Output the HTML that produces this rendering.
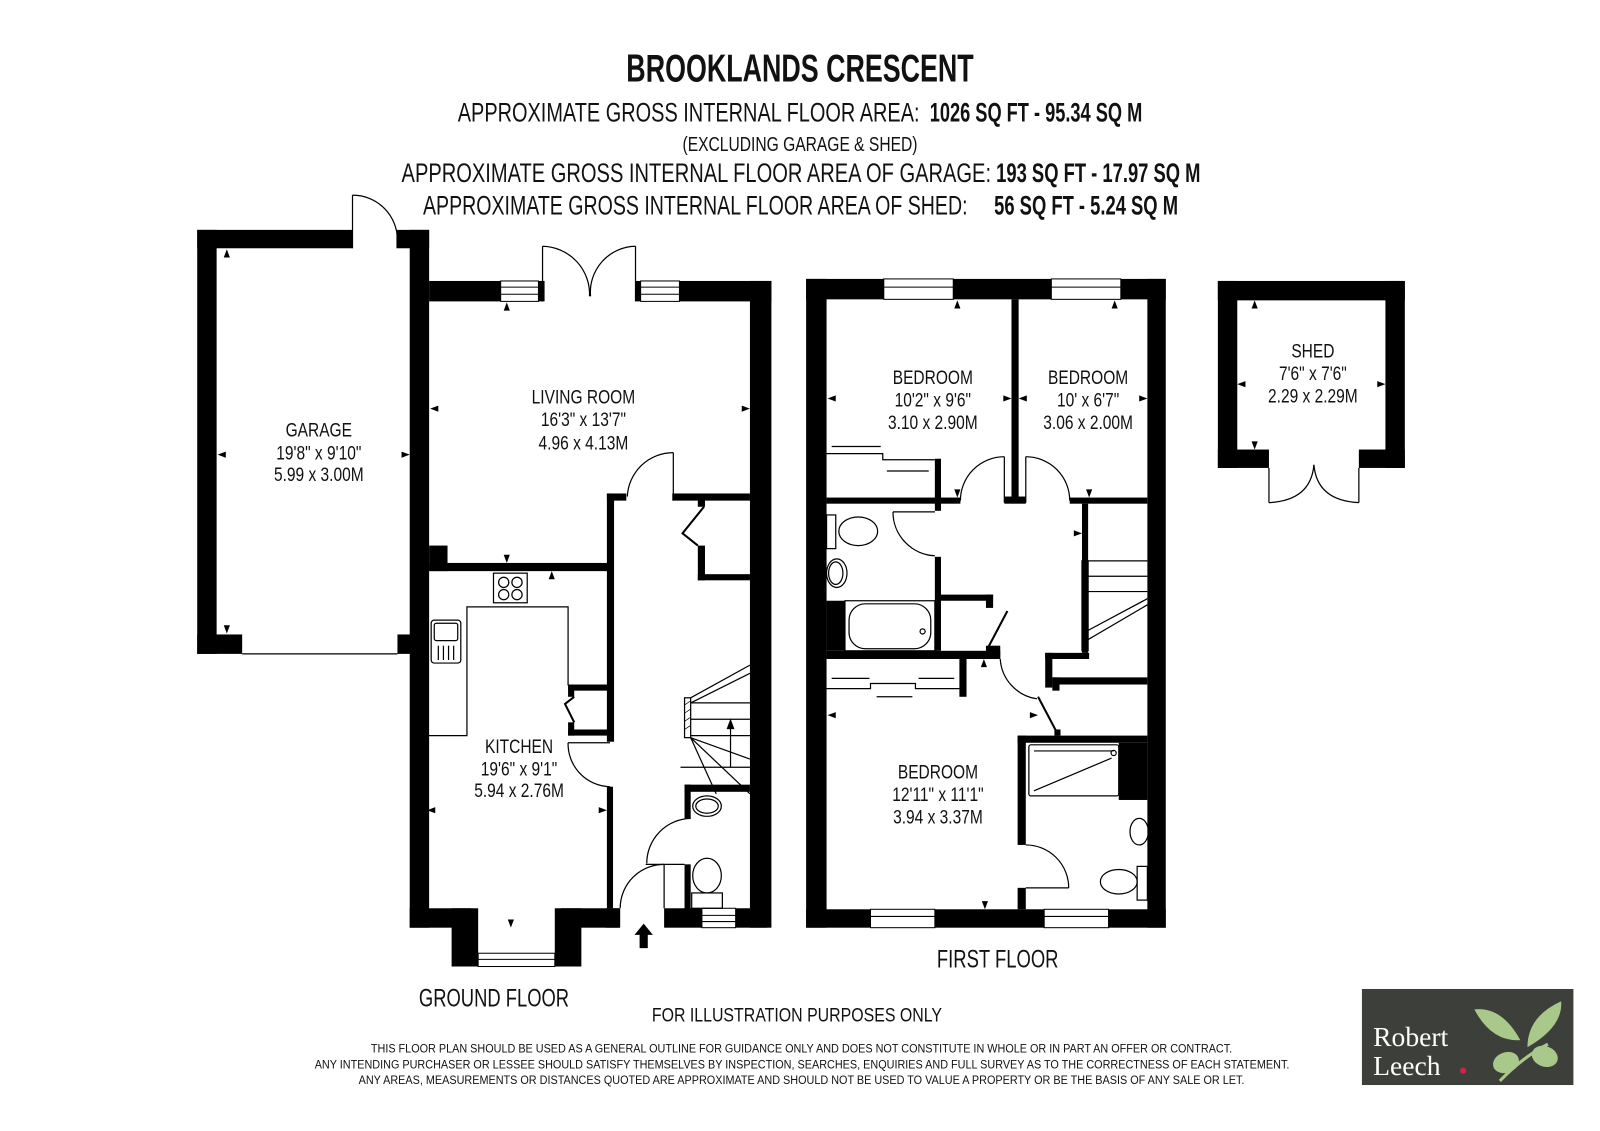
<!DOCTYPE html>
<html><head><meta charset="utf-8"><style>
html,body{margin:0;padding:0;background:#fff;}
svg{display:block;}
text{font-family:"Liberation Sans Narrow","Liberation Sans",sans-serif;fill:#111;}
</style></head><body>
<svg width="1600" height="1131" viewBox="0 0 1566 1107" xmlns="http://www.w3.org/2000/svg">
<rect width="1566" height="1107" fill="#fff"/>
<!-- Header -->
<text x="613" y="80" font-size="38" font-weight="bold" textLength="340" lengthAdjust="spacingAndGlyphs">BROOKLANDS CRESCENT</text>
<text x="448" y="119" font-size="26" textLength="452" lengthAdjust="spacingAndGlyphs">APPROXIMATE GROSS INTERNAL FLOOR AREA:</text>
<text x="910" y="119" font-size="26" font-weight="bold" textLength="208" lengthAdjust="spacingAndGlyphs">1026 SQ FT  -  95.34 SQ M</text>
<text x="668" y="148" font-size="20" textLength="230" lengthAdjust="spacingAndGlyphs">(EXCLUDING GARAGE &amp; SHED)</text>
<text x="393" y="178" font-size="26" textLength="577" lengthAdjust="spacingAndGlyphs">APPROXIMATE GROSS INTERNAL FLOOR AREA OF GARAGE:</text>
<text x="975" y="178" font-size="26" font-weight="bold" textLength="200" lengthAdjust="spacingAndGlyphs">193 SQ FT  -  17.97 SQ M</text>
<text x="414" y="210" font-size="26" textLength="533" lengthAdjust="spacingAndGlyphs">APPROXIMATE GROSS INTERNAL FLOOR AREA OF SHED:</text>
<text x="973" y="210" font-size="26" font-weight="bold" textLength="180" lengthAdjust="spacingAndGlyphs">56 SQ FT  -  5.24 SQ M</text>

<g fill="#000">
<rect x="193" y="225" width="19" height="415"/>
<rect x="193" y="225" width="152" height="18"/>
<rect x="388" y="225" width="32" height="18"/>
<rect x="401" y="225" width="19" height="683"/>
<rect x="193" y="621" width="44" height="19"/>
<rect x="389" y="621" width="13" height="19"/>
<rect x="420" y="275" width="335" height="20"/>
<rect x="734" y="275" width="21" height="633"/>
<rect x="420" y="551" width="180" height="8"/>
<rect x="420" y="534" width="18" height="25"/>
<rect x="594" y="483" width="7" height="243"/>
<rect x="594" y="483" width="19" height="7"/>
<rect x="658" y="483" width="76" height="7"/>
<rect x="683" y="534" width="7" height="34"/>
<rect x="683" y="562" width="51" height="6"/>
<rect x="683" y="488" width="7" height="8"/>
<rect x="594" y="770" width="6" height="119"/>
<rect x="556" y="670" width="42" height="6"/>
<rect x="556" y="670" width="6" height="12"/>
<rect x="556" y="707" width="6" height="13"/>
<rect x="556" y="714" width="42" height="6"/>
<rect x="401" y="889" width="60" height="19"/>
<rect x="442" y="889" width="26" height="57"/>
<rect x="549" y="889" width="57" height="19"/>
<rect x="543" y="889" width="26" height="57"/>
<rect x="593" y="889" width="14" height="19"/>
<rect x="650" y="889" width="101" height="19"/>
<rect x="670" y="768" width="64" height="7"/>
<rect x="670" y="768" width="6" height="33"/>
<rect x="670" y="846" width="6" height="45"/>
<rect x="789" y="273" width="352" height="20"/>
<rect x="789" y="273" width="20" height="635"/>
<rect x="1123" y="273" width="18" height="635"/>
<rect x="789" y="890" width="352" height="18"/>
<rect x="990" y="293" width="7" height="199"/>
<rect x="983" y="486" width="21" height="7"/>
<rect x="809" y="487" width="131" height="6"/>
<rect x="1047" y="487" width="76" height="6"/>
<rect x="915" y="449" width="6" height="51"/>
<rect x="915" y="545" width="6" height="92"/>
<rect x="809" y="588" width="18" height="49"/>
<rect x="809" y="637" width="170" height="8"/>
<rect x="921" y="582" width="51" height="6"/>
<rect x="965" y="582" width="7" height="13"/>
<rect x="965" y="632" width="14" height="13"/>
<rect x="939" y="645" width="7" height="37"/>
<rect x="1023" y="639" width="43" height="6"/>
<rect x="1023" y="639" width="7" height="34"/>
<rect x="1030" y="663" width="93" height="7"/>
<rect x="1030" y="663" width="7" height="13"/>
<rect x="1059" y="493" width="6" height="146"/>
<rect x="996" y="720" width="127" height="7"/>
<rect x="996" y="720" width="8" height="107"/>
<rect x="996" y="869" width="8" height="21"/>
<rect x="1095" y="727" width="28" height="56"/>
<rect x="1032" y="714" width="6" height="6"/>
<rect x="1192" y="275" width="183" height="19"/>
<rect x="1192" y="275" width="19" height="183"/>
<rect x="1356" y="275" width="19" height="183"/>
<rect x="1192" y="440" width="50" height="18"/>
<rect x="1330" y="440" width="45" height="18"/>
<polygon points="630,904 639,915 634,915 634,928 626,928 626,915 621,915"/>
</g>

<g fill="#fff" stroke="#000" stroke-width="1">
<rect x="490" y="275" width="37" height="20"/>
<rect x="627" y="275" width="38" height="20"/>
<rect x="468" y="933" width="75" height="13"/>
<rect x="687" y="889" width="33" height="19"/>
<rect x="865" y="273" width="68" height="20"/>
<rect x="1029" y="273" width="68" height="20"/>
<rect x="852" y="890" width="63" height="18"/>
<rect x="1022" y="890" width="63" height="18"/>
</g>
<g stroke="#000" stroke-width="1">
<line x1="490" y1="281" x2="527" y2="281"/><line x1="490" y1="288" x2="527" y2="288"/>
<line x1="627" y1="281" x2="665" y2="281"/><line x1="627" y1="288" x2="665" y2="288"/>
<line x1="468" y1="939" x2="543" y2="939"/>
<line x1="687" y1="896" x2="720" y2="896"/><line x1="687" y1="902" x2="720" y2="902"/>
<line x1="865" y1="281" x2="933" y2="281"/><line x1="1029" y1="281" x2="1097" y2="281"/>
<line x1="852" y1="897" x2="915" y2="897"/><line x1="1022" y1="897" x2="1085" y2="897"/>
</g>
<rect x="533" y="274" width="89" height="22" fill="#fff"/>

<g fill="none" stroke="#000" stroke-width="1.2">
<line x1="237" y1="640" x2="389" y2="640"/>
<line x1="345" y1="243" x2="345" y2="191"/>
<path d="M345,191 A44 44 0 0 1 389,235"/>
<line x1="531" y1="295" x2="531" y2="241"/><path d="M531,241 A47 47 0 0 1 577,290"/>
<line x1="622" y1="295" x2="622" y2="241"/><path d="M622,241 A45 45 0 0 0 578,290"/>
<line x1="659" y1="443" x2="659" y2="490"/><path d="M659,443 A45 45 0 0 0 614,486"/>
<path d="M689,496 L668,522 L683,534" stroke-width="2"/>
<line x1="556" y1="727" x2="597" y2="727"/><path d="M556,727 A42 42 0 0 0 597,770"/>
<path d="M562,682 L553,689 L562,707" stroke-width="2"/>
<rect x="483" y="561" width="33" height="29"/>
<circle cx="493" cy="570" r="5"/><circle cx="506" cy="570" r="5"/><circle cx="493" cy="582" r="5"/><circle cx="506" cy="582" r="5"/>
<polyline points="417,720 457,720 457,594 556,594 556,671"/>
<rect x="422" y="607" width="29" height="42" rx="3"/><rect x="425" y="610" width="23" height="17" rx="2"/>
<line x1="429" y1="632" x2="429" y2="646"/><line x1="434" y1="632" x2="434" y2="646"/><line x1="439" y1="632" x2="439" y2="646"/><line x1="444" y1="632" x2="444" y2="646"/>
<line x1="650" y1="889" x2="650" y2="846"/><path d="M607,889 A43 43 0 0 1 650,846"/>
<rect x="670" y="683" width="6" height="39"/>
<line x1="676" y1="683" x2="734" y2="651"/><line x1="676" y1="688" x2="734" y2="659"/>
<line x1="676" y1="688" x2="734" y2="688"/><line x1="676" y1="704" x2="734" y2="704"/><line x1="676" y1="720" x2="734" y2="720"/>
<line x1="666" y1="751" x2="734" y2="751"/>
<line x1="676" y1="722" x2="701" y2="777"/><line x1="676" y1="722" x2="734" y2="777"/><line x1="676" y1="722" x2="734" y2="743"/>
<line x1="715" y1="751" x2="715" y2="708"/><polygon points="715,705 712,713 718,713" fill="#000"/>
<line x1="632" y1="846" x2="670" y2="846"/><path d="M676,801 A44 44 0 0 0 633,845"/>
<ellipse cx="692" cy="789" rx="14" ry="10"/><ellipse cx="692" cy="789" rx="11" ry="7"/>
<ellipse cx="692" cy="857" rx="14" ry="17"/><rect x="677" y="874" width="30" height="15"/>
<line x1="983" y1="447" x2="983" y2="492"/><path d="M983,447 A43 43 0 0 0 940,490"/>
<line x1="1004" y1="447" x2="1004" y2="492"/><path d="M1004,447 A43 43 0 0 1 1047,490"/>
<polyline points="809,444 864,444 864,450 915,450"/>
<line x1="814" y1="437" x2="862" y2="437"/><line x1="868" y1="461" x2="909" y2="461"/>
<line x1="874" y1="501" x2="915" y2="501"/><path d="M874,501 A43 43 0 0 0 915,544"/>
<ellipse cx="840" cy="520" rx="19" ry="14"/><rect x="809" y="504" width="9" height="33"/>
<ellipse cx="819" cy="561" rx="10" ry="14"/><ellipse cx="818" cy="561" rx="7" ry="11"/>
<rect x="827" y="588" width="88" height="49"/><rect x="831" y="591" width="80" height="44" rx="16"/>
<circle cx="903" cy="618" r="2.5"/>
<path d="M986,598 L967,634" stroke-width="2"/>
<polyline points="809,674 852,674 852,669 896,669 896,674 939,674"/>
<line x1="814" y1="664" x2="851" y2="664"/><line x1="858" y1="682" x2="893" y2="682"/><line x1="899" y1="664" x2="934" y2="664"/>
<path d="M979,645 A42 42 0 0 0 1015,684"/>
<path d="M1016,682 L1035,718" stroke-width="2"/>
<rect x="1059" y="549" width="6" height="88"/>
<line x1="1065" y1="549" x2="1123" y2="549"/><line x1="1065" y1="564" x2="1123" y2="564"/><line x1="1065" y1="579" x2="1123" y2="579"/>
<line x1="1065" y1="626" x2="1123" y2="592"/><line x1="1065" y1="617" x2="1123" y2="586"/>
<line x1="1004" y1="869" x2="1046" y2="869"/><path d="M1004,827 A42 42 0 0 1 1046,869"/>
<rect x="1007" y="729" width="88" height="50" rx="2"/>
<line x1="1012" y1="735" x2="1090" y2="735"/><line x1="1012" y1="774" x2="1088" y2="742"/><circle cx="1090" cy="737" r="2.5"/>
<ellipse cx="1115" cy="814" rx="9" ry="13"/>
<ellipse cx="1095" cy="863" rx="18" ry="12"/><rect x="1113" y="848" width="10" height="33"/>
<line x1="1242" y1="458" x2="1242" y2="492"/><line x1="1330" y1="458" x2="1330" y2="492"/>
<path d="M1242,492 Q1283,490 1286,455"/><path d="M1330,492 Q1289,490 1286,455"/>
</g>
<g stroke="#000" stroke-width="0.7">
<line x1="670" y1="690" x2="676" y2="686"/><line x1="670" y1="698" x2="676" y2="694"/><line x1="670" y1="706" x2="676" y2="702"/><line x1="670" y1="714" x2="676" y2="710"/>
<line x1="1059" y1="560" x2="1065" y2="555"/><line x1="1059" y1="575" x2="1065" y2="570"/><line x1="1059" y1="590" x2="1065" y2="585"/><line x1="1059" y1="605" x2="1065" y2="600"/><line x1="1059" y1="620" x2="1065" y2="615"/>
</g>
<g fill="#000">
<polygon points="222,244 219,252 225,252"/><polygon points="222,620 219,612 225,612"/>
<polygon points="213,445 221,442 221,448"/><polygon points="401,445 393,442 393,448"/>
<polygon points="496,296 493,304 499,304"/><polygon points="496,551 493,543 499,543"/>
<polygon points="421,400 429,397 429,403"/><polygon points="734,400 726,397 726,403"/>
<polygon points="540,559 537,567 543,567"/><polygon points="500,908 497,900 503,900"/>
<polygon points="418,793 426,790 426,796"/><polygon points="594,793 586,790 586,796"/>
<polygon points="937,294 934,302 940,302"/><polygon points="937,487 934,479 940,479"/>
<polygon points="810,390 818,387 818,393"/><polygon points="990,390 982,387 982,393"/>
<polygon points="1091,294 1088,302 1094,302"/><polygon points="1066,487 1063,479 1069,479"/>
<polygon points="997,390 1005,387 1005,393"/><polygon points="1123,390 1115,387 1115,393"/>
<polygon points="963,645 960,653 966,653"/><polygon points="964,890 961,882 967,882"/>
<polygon points="810,700 818,697 818,703"/><polygon points="1016,700 1008,697 1008,703"/>
<polygon points="1059,522 1051,519 1051,525"/>
<polygon points="1228,294 1225,302 1231,302"/><polygon points="1228,440 1225,432 1231,432"/>
<polygon points="1211,376 1219,373 1219,379"/><polygon points="1356,376 1348,373 1348,379"/>
</g>

<g font-size="19" text-anchor="middle">
<g transform="translate(312 0) scale(0.8 1)"><text x="0" y="427">GARAGE</text><text x="0" y="450">19'8" x 9'10"</text><text x="0" y="471">5.99 x 3.00M</text></g>
<g transform="translate(571 0) scale(0.8 1)"><text x="0" y="395">LIVING ROOM</text><text x="0" y="417">16'3" x 13'7"</text><text x="0" y="440">4.96 x 4.13M</text></g>
<g transform="translate(508 0) scale(0.8 1)"><text x="0" y="737">KITCHEN</text><text x="0" y="759">19'6" x 9'1"</text><text x="0" y="780">5.94 x 2.76M</text></g>
<g transform="translate(913 0) scale(0.8 1)"><text x="0" y="376">BEDROOM</text><text x="0" y="398">10'2" x 9'6"</text><text x="0" y="420">3.10 x 2.90M</text></g>
<g transform="translate(1065 0) scale(0.8 1)"><text x="0" y="376">BEDROOM</text><text x="0" y="398">10' x 6'7"</text><text x="0" y="420">3.06 x 2.00M</text></g>
<g transform="translate(918 0) scale(0.8 1)"><text x="0" y="762">BEDROOM</text><text x="0" y="784">12'11" x 11'1"</text><text x="0" y="806">3.94 x 3.37M</text></g>
<g transform="translate(1285 0) scale(0.8 1)"><text x="0" y="350">SHED</text><text x="0" y="372">7'6" x 7'6"</text><text x="0" y="394">2.29 x 2.29M</text></g>
</g>
<text x="410" y="985" font-size="24" textLength="147" lengthAdjust="spacingAndGlyphs">GROUND FLOOR</text>
<text x="917" y="947" font-size="24" textLength="119" lengthAdjust="spacingAndGlyphs">FIRST FLOOR</text>
<text x="638" y="1000" font-size="19" textLength="284" lengthAdjust="spacingAndGlyphs">FOR ILLUSTRATION PURPOSES ONLY</text>
<text x="363" y="1030" font-size="12" textLength="843" lengthAdjust="spacingAndGlyphs">THIS FLOOR PLAN SHOULD BE USED AS A GENERAL OUTLINE FOR GUIDANCE ONLY AND DOES NOT CONSTITUTE IN WHOLE OR IN PART AN OFFER OR CONTRACT.</text>
<text x="308" y="1046" font-size="12" textLength="954" lengthAdjust="spacingAndGlyphs">ANY INTENDING PURCHASER OR LESSEE SHOULD SATISFY THEMSELVES BY INSPECTION, SEARCHES, ENQUIRIES AND FULL SURVEY AS TO THE CORRECTNESS OF EACH STATEMENT.</text>
<text x="351" y="1061" font-size="12" textLength="867" lengthAdjust="spacingAndGlyphs">ANY AREAS, MEASUREMENTS OR DISTANCES QUOTED ARE APPROXIMATE AND SHOULD NOT BE USED TO VALUE A PROPERTY OR BE THE BASIS OF ANY SALE OR LET.</text>

<rect x="1333" y="968" width="207" height="94" fill="#3d3f3a"/>
<text x="1344" y="1024" font-size="27" style="font-family:'Liberation Serif',serif;fill:#fff">Robert</text>
<text x="1344" y="1052" font-size="27" style="font-family:'Liberation Serif',serif;fill:#fff">Leech</text>
<circle cx="1432" cy="1048" r="3" fill="#d0234a"/>
<g fill="#a9c98a">
<path d="M1443,988 Q1470,985 1488,1018 Q1460,1020 1443,988 Z"/>
<path d="M1528,980 Q1530,1005 1495,1025 Q1495,995 1528,980 Z"/>
<ellipse cx="1474" cy="1040" rx="13" ry="10" transform="rotate(-20 1474 1040)"/>
<ellipse cx="1512" cy="1034" rx="13" ry="10" transform="rotate(20 1512 1034)"/>
<path d="M1468,1058 Q1490,1035 1515,1022" stroke="#a9c98a" stroke-width="3" fill="none"/>
</g>
</svg>
</body></html>
